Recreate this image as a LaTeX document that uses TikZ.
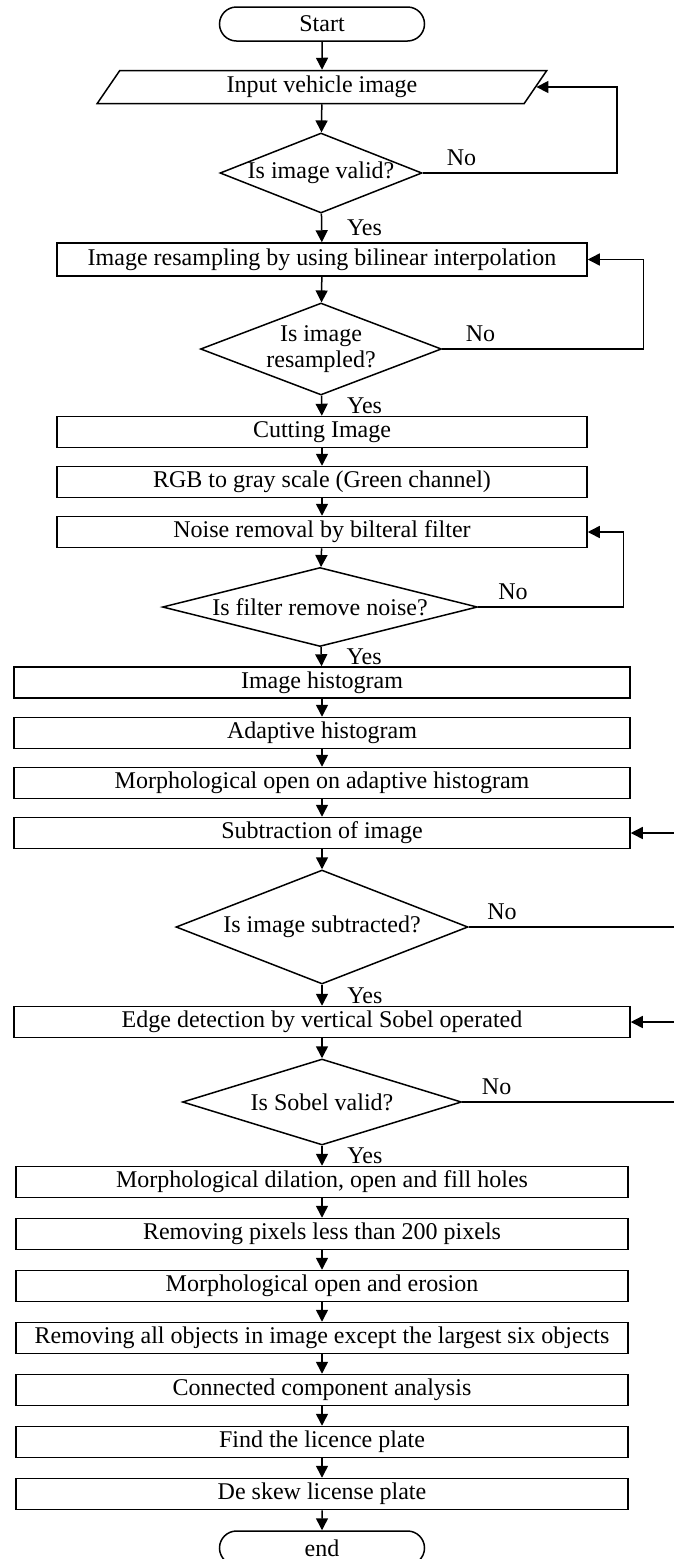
\documentclass[tikz,border=0pt]{standalone}
\usepackage{fontspec}
\setmainfont{Liberation Serif}
\usetikzlibrary{arrows.meta,shapes.geometric,shapes.misc,positioning}

\begin{document}
\begin{tikzpicture}[x=0.5pt,y=-0.5pt,line width=0.75pt,
    every node/.style={font=\fontsize{12}{13}\selectfont},
    term/.style={draw,rounded rectangle,minimum width=102.5pt,minimum height=17pt,inner sep=0pt},
    io/.style={draw,trapezium,trapezium left angle=64,trapezium right angle=116,
        trapezium stretches=true,minimum width=225pt,minimum height=16.5pt,inner sep=0pt},
    box/.style={draw,rectangle,minimum width=265pt,minimum height=15.5pt,inner sep=0pt},
    wbox/.style={box,minimum width=308pt},
    decision/.style={draw,diamond,inner sep=0pt,align=center},
    arrow/.style={-{Triangle[length=6pt,width=6pt]}},
    yes/.style={anchor=west,xshift=9pt},
    no/.style={above}]
    \useasboundingbox (0,0) rectangle (674,1559);
    % top part
    \node[term] (start) at (322,24) {Start};
    \node[io] (input) at (322,87) {Input vehicle image};
    \node[decision,minimum width=101pt,minimum height=40pt,shape aspect=2.53] (valid) at (321,173) {Is image valid?};
    \node[box,minimum height=16.5pt] (resample) at (322,259.5) {Image resampling by using bilinear interpolation};
    \node[decision,minimum width=120.5pt,minimum height=46pt,shape aspect=2.6] (resampled) at (321,349) {Is image\\resampled?};
    \node[box] (cut) at (322,432) {Cutting Image};
    \node[box] (gray) at (322,482) {RGB to gray scale (Green channel)};
    \node[box] (noise) at (322,532) {Noise removal by bilteral filter};
    \node[decision,minimum width=157.5pt,minimum height=39.5pt,shape aspect=4] (filter) at (320,607) {Is filter remove noise?};
    % histogram part
    \node[wbox] (hist) at (322,682.5) {Image histogram};
    \node[wbox] (adapt) at (322,733) {Adaptive histogram};
    \node[wbox] (open) at (322,783) {Morphological open on adaptive histogram};
    \node[wbox] (subtr) at (322,833) {Subtraction of image};
    \node[decision,minimum width=146pt,minimum height=57pt,shape aspect=2.6] (subtracted) at (322,927) {Is image subtracted?};
    \node[wbox] (edge) at (322,1022) {Edge detection by vertical Sobel operated};
    \node[decision,minimum width=139.5pt,minimum height=43pt,shape aspect=3.2] (sobel) at (322,1102) {Is Sobel valid?};
    % bottom part
    \node[wbox,minimum width=306pt] (dilate) at (322,1182) {Morphological dilation, open and fill holes};
    \node[wbox,minimum width=306pt] (small) at (322,1234) {Removing pixels less than 200 pixels};
    \node[wbox,minimum width=306pt] (erode) at (322,1286) {Morphological open and erosion};
    \node[wbox,minimum width=306pt] (largest) at (322,1338) {Removing all objects in image except the largest six objects};
    \node[wbox,minimum width=306pt] (cca) at (322,1390) {Connected component analysis};
    \node[wbox,minimum width=306pt] (plate) at (322,1442) {Find the licence plate};
    \node[wbox,minimum width=306pt] (deskew) at (322,1494) {De skew license plate};
    \node[term] (end) at (322,1548) {end};

    % main flow
    \draw[arrow] (start) -- (input);
    \draw[arrow] (input) -- (valid);
    \draw[arrow] (valid) -- node[yes] {Yes} (resample);
    \draw[arrow] (resample) -- (resampled);
    \draw[arrow] (resampled) -- node[yes] {Yes} (cut);
    \draw[arrow] (cut) -- (gray);
    \draw[arrow] (gray) -- (noise);
    \draw[arrow] (noise) -- (filter);
    \draw[arrow] (filter) -- node[yes] {Yes} (hist);
    \draw[arrow] (hist) -- (adapt);
    \draw[arrow] (adapt) -- (open);
    \draw[arrow] (open) -- (subtr);
    \draw[arrow] (subtr) -- (subtracted);
    \draw[arrow] (subtracted) -- node[yes] {Yes} (edge);
    \draw[arrow] (edge) -- (sobel);
    \draw[arrow] (sobel) -- node[yes] {Yes} (dilate);
    \draw[arrow] (dilate) -- (small);
    \draw[arrow] (small) -- (erode);
    \draw[arrow] (erode) -- (largest);
    \draw[arrow] (largest) -- (cca);
    \draw[arrow] (cca) -- (plate);
    \draw[arrow] (plate) -- (deskew);
    \draw[arrow] (deskew) -- (end);

    % "No" loops
    \draw[arrow] (valid.east) -- node[no,pos=.2] {No} ++(194,0) |- (input.east);
    \draw[arrow] (resampled.east) -- node[no,pos=.19] {No} ++(201,0) |- (resample.east);
    \draw[arrow] (filter.east) -- node[no,pos=.24] {No} ++(145,0) |- (noise.east);
    \draw[arrow] (subtracted.east) -- node[no,pos=.15] {No} ++(222,0) |- (subtr.east);
    \draw[arrow] (sobel.east) -- node[no,pos=.15] {No} ++(229,0) |- (edge.east);
\end{tikzpicture}
\end{document}
